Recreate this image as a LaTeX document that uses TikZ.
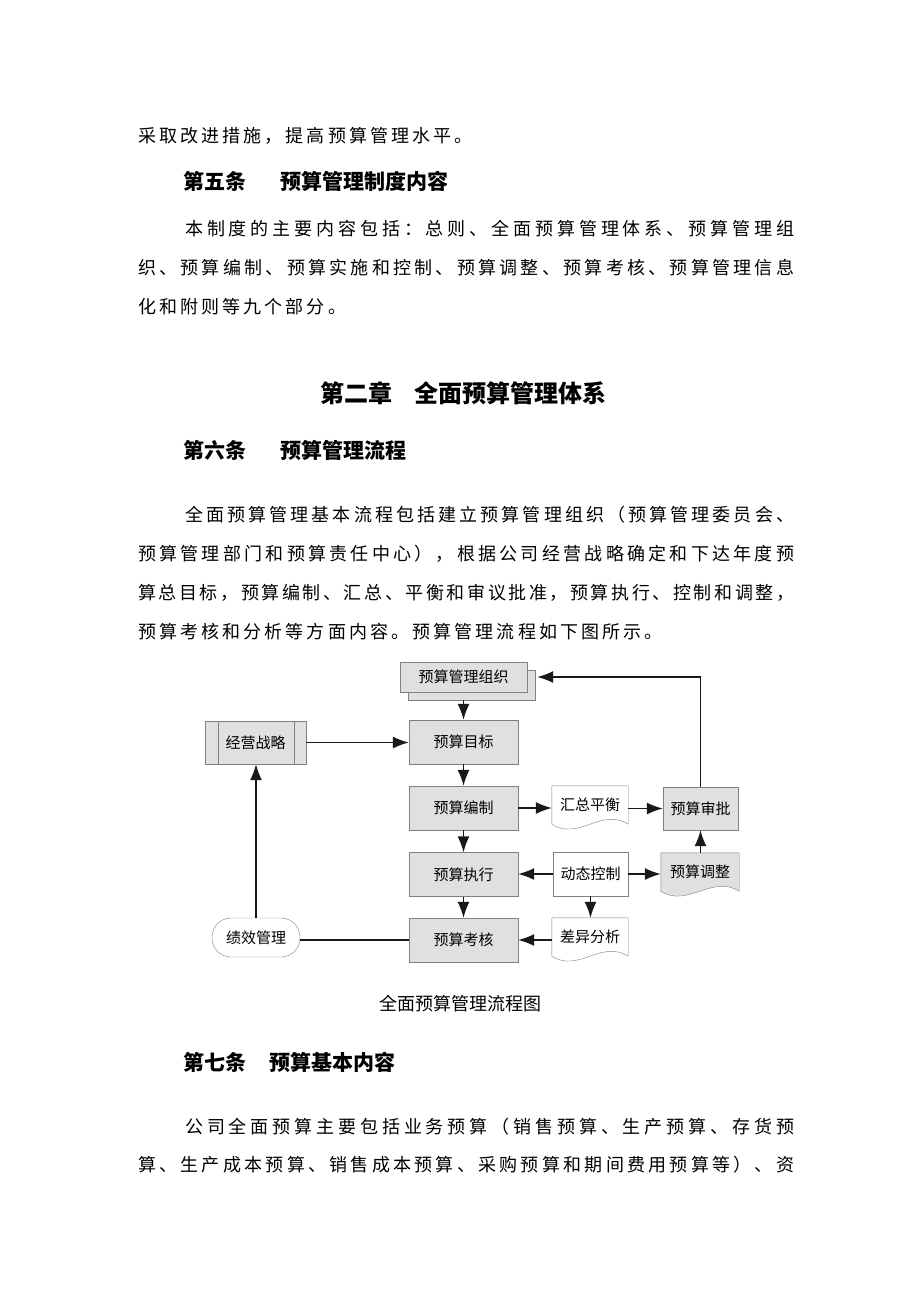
\documentclass[tikz,border=0pt]{standalone}
\usepackage{fontspec}
\setmainfont{Noto Sans CJK SC}
\usetikzlibrary{arrows.meta, shadows, backgrounds}

\newcommand\bodyfont{\fontsize{18pt}{18pt}\selectfont}
\newcommand\headfont{\bfseries\fontsize{21pt}{21pt}\selectfont}
\newcommand\chapfont{\bfseries\fontsize{24pt}{24pt}\selectfont}
\newcommand\boxfont{\fontsize{15pt}{15pt}\selectfont}

\ExplSyntaxOn
\NewDocumentCommand \spreadchars { m m }
  { \tl_map_inline:nn {#2} { ##1 \hskip #1 \relax } \unskip }
\ExplSyntaxOff

\newcommand\justline[2]{\hbox to #1{\spreadchars{0pt plus 1fil}{#2}}}
\newcommand\looseline[1]{\spreadchars{3.1pt}{#1}}

\newcommand\docoutline[2]{%
  \filldraw[draw=black!50, fill=#2] (#1.south west) -- (#1.north west)
    -- (#1.north east) -- (#1.south east)
    .. controls ([xshift=-27pt, yshift=17pt]#1.south east)
    and ([xshift=27pt, yshift=-17pt]#1.south west) .. (#1.south west) -- cycle;}

\begin{document}
\begin{tikzpicture}[x = 1pt, y = -1pt,
	tip/.style = {-{Latex[length=16pt, width=12pt]}},
	txt/.style = {anchor = west, inner sep = 0pt},
	proc/.style = {draw = black!50, fill = black!12, minimum width = 109pt,
		minimum height = 44pt, inner sep = 0pt, font = \boxfont},
	doc/.style = {minimum width = 76pt, minimum height = 38pt, inner sep = 0pt,
		font = \boxfont},
	flow/.style = {draw = black!90, line width = 1.4pt}]
	
	% The page
	
	\useasboundingbox (0, 0) rectangle (920, 1302);
	\begin{scope}[on background layer]
		\fill[white] (0, 0) rectangle (920, 1302);
	\end{scope}
	
	% Text above the chart
	
	\node[txt, font = \bodyfont] (p0) at (138, 136) {\looseline{采取改进措施，提高预算管理水平。}};
	\node[txt, font = \headfont] (h5) at (183, 181) {第五条\hspace{34pt}预算管理制度内容};
	\node[txt, font = \bodyfont] (p1a) at (185, 229) {\justline{609pt}{本制度的主要内容包括：总则、全面预算管理体系、预算管理组}};
	\node[txt, font = \bodyfont] (p1b) at (138, 268) {\justline{656pt}{织、预算编制、预算实施和控制、预算调整、预算考核、预算管理信息}};
	\node[txt, font = \bodyfont] (p1c) at (138, 307) {\looseline{化和附则等九个部分。}};
	
	\node[txt, font = \chapfont] (ch2) at (320, 393) {第二章\hspace{22pt}全面预算管理体系};
	\node[txt, font = \headfont] (h6) at (183, 450) {第六条\hspace{34pt}预算管理流程};
	
	\node[txt, font = \bodyfont] (p2a) at (185, 515) {\justline{609pt}{全面预算管理基本流程包括建立预算管理组织（预算管理委员会、}};
	\node[txt, font = \bodyfont] (p2b) at (138, 554) {\justline{656pt}{预算管理部门和预算责任中心），根据公司经营战略确定和下达年度预}};
	\node[txt, font = \bodyfont] (p2c) at (138, 593) {\justline{656pt}{算总目标，预算编制、汇总、平衡和审议批准，预算执行、控制和调整，}};
	\node[txt, font = \bodyfont] (p2d) at (138, 632) {\looseline{预算考核和分析等方面内容。预算管理流程如下图所示。}};
	
	% Chart boxes
	
	\node[proc, minimum width = 127pt, minimum height = 30pt,
		copy shadow = {shadow xshift = 8pt, shadow yshift = -8pt}] (org) at (463.5, 677) {预算管理组织};
	\node[proc] (target) at (463.5, 742) {预算目标};
	\node[proc] (compile) at (463.5, 808) {预算编制};
	\node[proc] (execute) at (463.5, 874.5) {预算执行};
	\node[proc] (assess) at (463.5, 940) {预算考核};
	
	\node[proc, minimum width = 101pt, minimum height = 43pt] (strategy) at (255.5, 742.5) {经营战略};
	\draw[black!50] ([xshift = 13pt]strategy.north west) -- ([xshift = 13pt]strategy.south west);
	\draw[black!50] ([xshift = -12pt]strategy.north east) -- ([xshift = -12pt]strategy.south east);
	
	\node[proc, minimum width = 75pt, minimum height = 43pt] (approve) at (700.5, 808.5) {预算审批};
	\node[proc, fill = white, minimum width = 75pt] (control) at (590.5, 874) {动态控制};
	
	\node[doc] (summary) at (590, 805) {汇总平衡};
	\node[doc] (variance) at (590, 937) {差异分析};
	\node[doc, minimum width = 78pt] (adjust) at (700, 872) {预算调整};
	
	\begin{scope}[on background layer]
		\docoutline{summary}{white}
		\docoutline{variance}{white}
		\docoutline{adjust}{black!12}
	\end{scope}
	
	\node[draw = black!50, rounded corners = 19pt, minimum width = 88pt, minimum height = 39pt,
		inner sep = 0pt, font = \boxfont] (perf) at (256, 937.5) {绩效管理};
	
	% Connectors
	
	\begin{scope}[tip, flow]
	
		\draw ([yshift = -8pt]org.south) -- (target.north);
		\draw (target) -- (compile);
		\draw (compile) -- (execute);
		\draw (execute) -- (assess);
		\draw (strategy.east) -- (strategy.east -| target.west);
		\draw (compile.east) -- (compile.east -| summary.west);
		\draw (summary.east |- approve.west) -- (approve.west);
		\draw (approve.north) |- ([xshift = 10pt]org.east);
		\draw (control.west) -- (control.west -| execute.east);
		\draw (control.east) -- (control.east -| adjust.west);
		\draw (control.south) -- (control.south |- variance.north);
		\draw (variance.west |- assess.east) -- (assess.east);
		\draw (approve.south |- adjust.north) -- (approve.south);
		\draw (perf.north) -- (perf.north |- strategy.south);
		
	\end{scope}
	
	\draw[flow] (perf.east |- assess.west) -- (assess.west);
	
	% Caption and text below the chart
	
	\node[font = \fontsize{18pt}{18pt}\selectfont] (cap) at (460, 1004) {全面预算管理流程图};
	\node[txt, font = \headfont] (h7) at (183, 1062) {第七条\hspace{23pt}预算基本内容};
	\node[txt, font = \bodyfont] (p3a) at (185, 1127) {\justline{609pt}{公司全面预算主要包括业务预算（销售预算、生产预算、存货预}};
	\node[txt, font = \bodyfont] (p3b) at (138, 1165) {\justline{656pt}{算、生产成本预算、销售成本预算、采购预算和期间费用预算等）、资}};

\end{tikzpicture}
\end{document}
